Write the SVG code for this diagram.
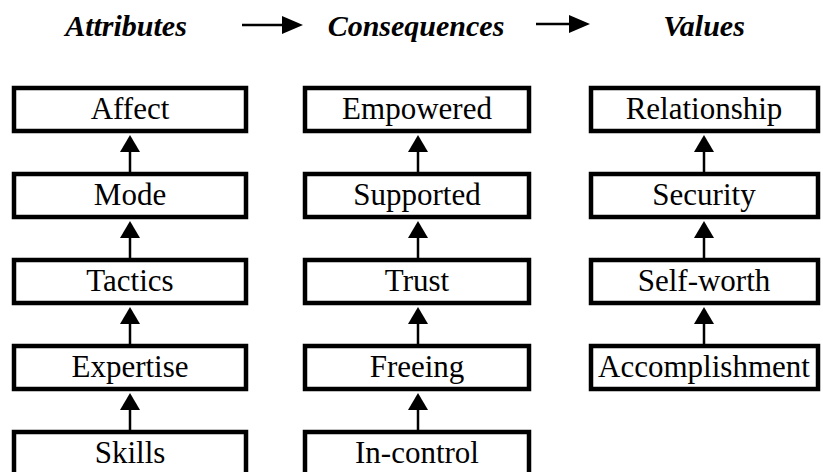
<svg xmlns="http://www.w3.org/2000/svg" width="823" height="472" viewBox="0 0 823 472">
<style>
.box{fill:#fff;stroke:#000;stroke-width:4.5}
.lbl{font-size:31px;fill:#000;text-anchor:middle}
.hdr{font-size:30px;font-style:italic;font-weight:bold;fill:#000;text-anchor:middle}
.cn{stroke:#000;stroke-width:2.5;fill:none}
</style>
<defs>
<marker id="ah" markerUnits="userSpaceOnUse" markerWidth="17" markerHeight="20" refX="0" refY="10" orient="auto">
<path d="M0,0 L17,10 L0,20 z" fill="#000"/>
</marker>
<marker id="hh" markerUnits="userSpaceOnUse" markerWidth="21" markerHeight="18" refX="0" refY="9" orient="auto">
<path d="M0,0 L21,9 L0,18 z" fill="#000"/>
</marker>
</defs>
<rect width="823" height="472" fill="#fff"/>
<g id="headers" font-family="Liberation Serif, DejaVu Serif, serif">
<text class="hdr" x="126" y="36">Attributes</text>
<text class="hdr" x="416" y="36">Consequences</text>
<text class="hdr" x="704" y="36">Values</text>
</g>
<g id="connectors">
<line class="cn" x1="242" y1="25" x2="282" y2="25" marker-end="url(#hh)"/>
<line class="cn" x1="536" y1="24" x2="569" y2="24" marker-end="url(#hh)"/>
<line class="cn" x1="130" y1="172" x2="130" y2="152" marker-end="url(#ah)"/>
<line class="cn" x1="130" y1="258" x2="130" y2="238" marker-end="url(#ah)"/>
<line class="cn" x1="130" y1="344" x2="130" y2="324" marker-end="url(#ah)"/>
<line class="cn" x1="130" y1="430" x2="130" y2="410" marker-end="url(#ah)"/>
<line class="cn" x1="418" y1="172" x2="418" y2="152" marker-end="url(#ah)"/>
<line class="cn" x1="418" y1="258" x2="418" y2="238" marker-end="url(#ah)"/>
<line class="cn" x1="418" y1="344" x2="418" y2="324" marker-end="url(#ah)"/>
<line class="cn" x1="418" y1="430" x2="418" y2="410" marker-end="url(#ah)"/>
<line class="cn" x1="704" y1="172" x2="704" y2="152" marker-end="url(#ah)"/>
<line class="cn" x1="704" y1="258" x2="704" y2="238" marker-end="url(#ah)"/>
<line class="cn" x1="704" y1="344" x2="704" y2="324" marker-end="url(#ah)"/>
</g>
<g id="nodes" font-family="Liberation Serif, DejaVu Serif, serif">
<g id="affect"><rect class="box" x="14" y="88" width="232" height="43"/><text class="lbl" x="130" y="119">Affect</text></g>
<g id="mode"><rect class="box" x="14" y="174" width="232" height="43"/><text class="lbl" x="130" y="205">Mode</text></g>
<g id="tactics"><rect class="box" x="14" y="260" width="232" height="43"/><text class="lbl" x="130" y="291">Tactics</text></g>
<g id="expertise"><rect class="box" x="14" y="346" width="232" height="43"/><text class="lbl" x="130" y="377">Expertise</text></g>
<g id="skills"><rect class="box" x="14" y="432" width="232" height="43"/><text class="lbl" x="130" y="463">Skills</text></g>
<g id="empowered"><rect class="box" x="305" y="88" width="224" height="43"/><text class="lbl" x="417" y="119">Empowered</text></g>
<g id="supported"><rect class="box" x="305" y="174" width="224" height="43"/><text class="lbl" x="417" y="205">Supported</text></g>
<g id="trust"><rect class="box" x="305" y="260" width="224" height="43"/><text class="lbl" x="417" y="291">Trust</text></g>
<g id="freeing"><rect class="box" x="305" y="346" width="224" height="43"/><text class="lbl" x="417" y="377">Freeing</text></g>
<g id="in-control"><rect class="box" x="305" y="432" width="224" height="43"/><text class="lbl" x="417" y="463">In-control</text></g>
<g id="relationship"><rect class="box" x="591" y="88" width="227" height="43"/><text class="lbl" x="704" y="119">Relationship</text></g>
<g id="security"><rect class="box" x="591" y="174" width="227" height="43"/><text class="lbl" x="704" y="205">Security</text></g>
<g id="self-worth"><rect class="box" x="591" y="260" width="227" height="43"/><text class="lbl" x="704" y="291">Self-worth</text></g>
<g id="accomplishment"><rect class="box" x="591" y="346" width="227" height="43"/><text class="lbl" x="704" y="377">Accomplishment</text></g>
</g>
</svg>
